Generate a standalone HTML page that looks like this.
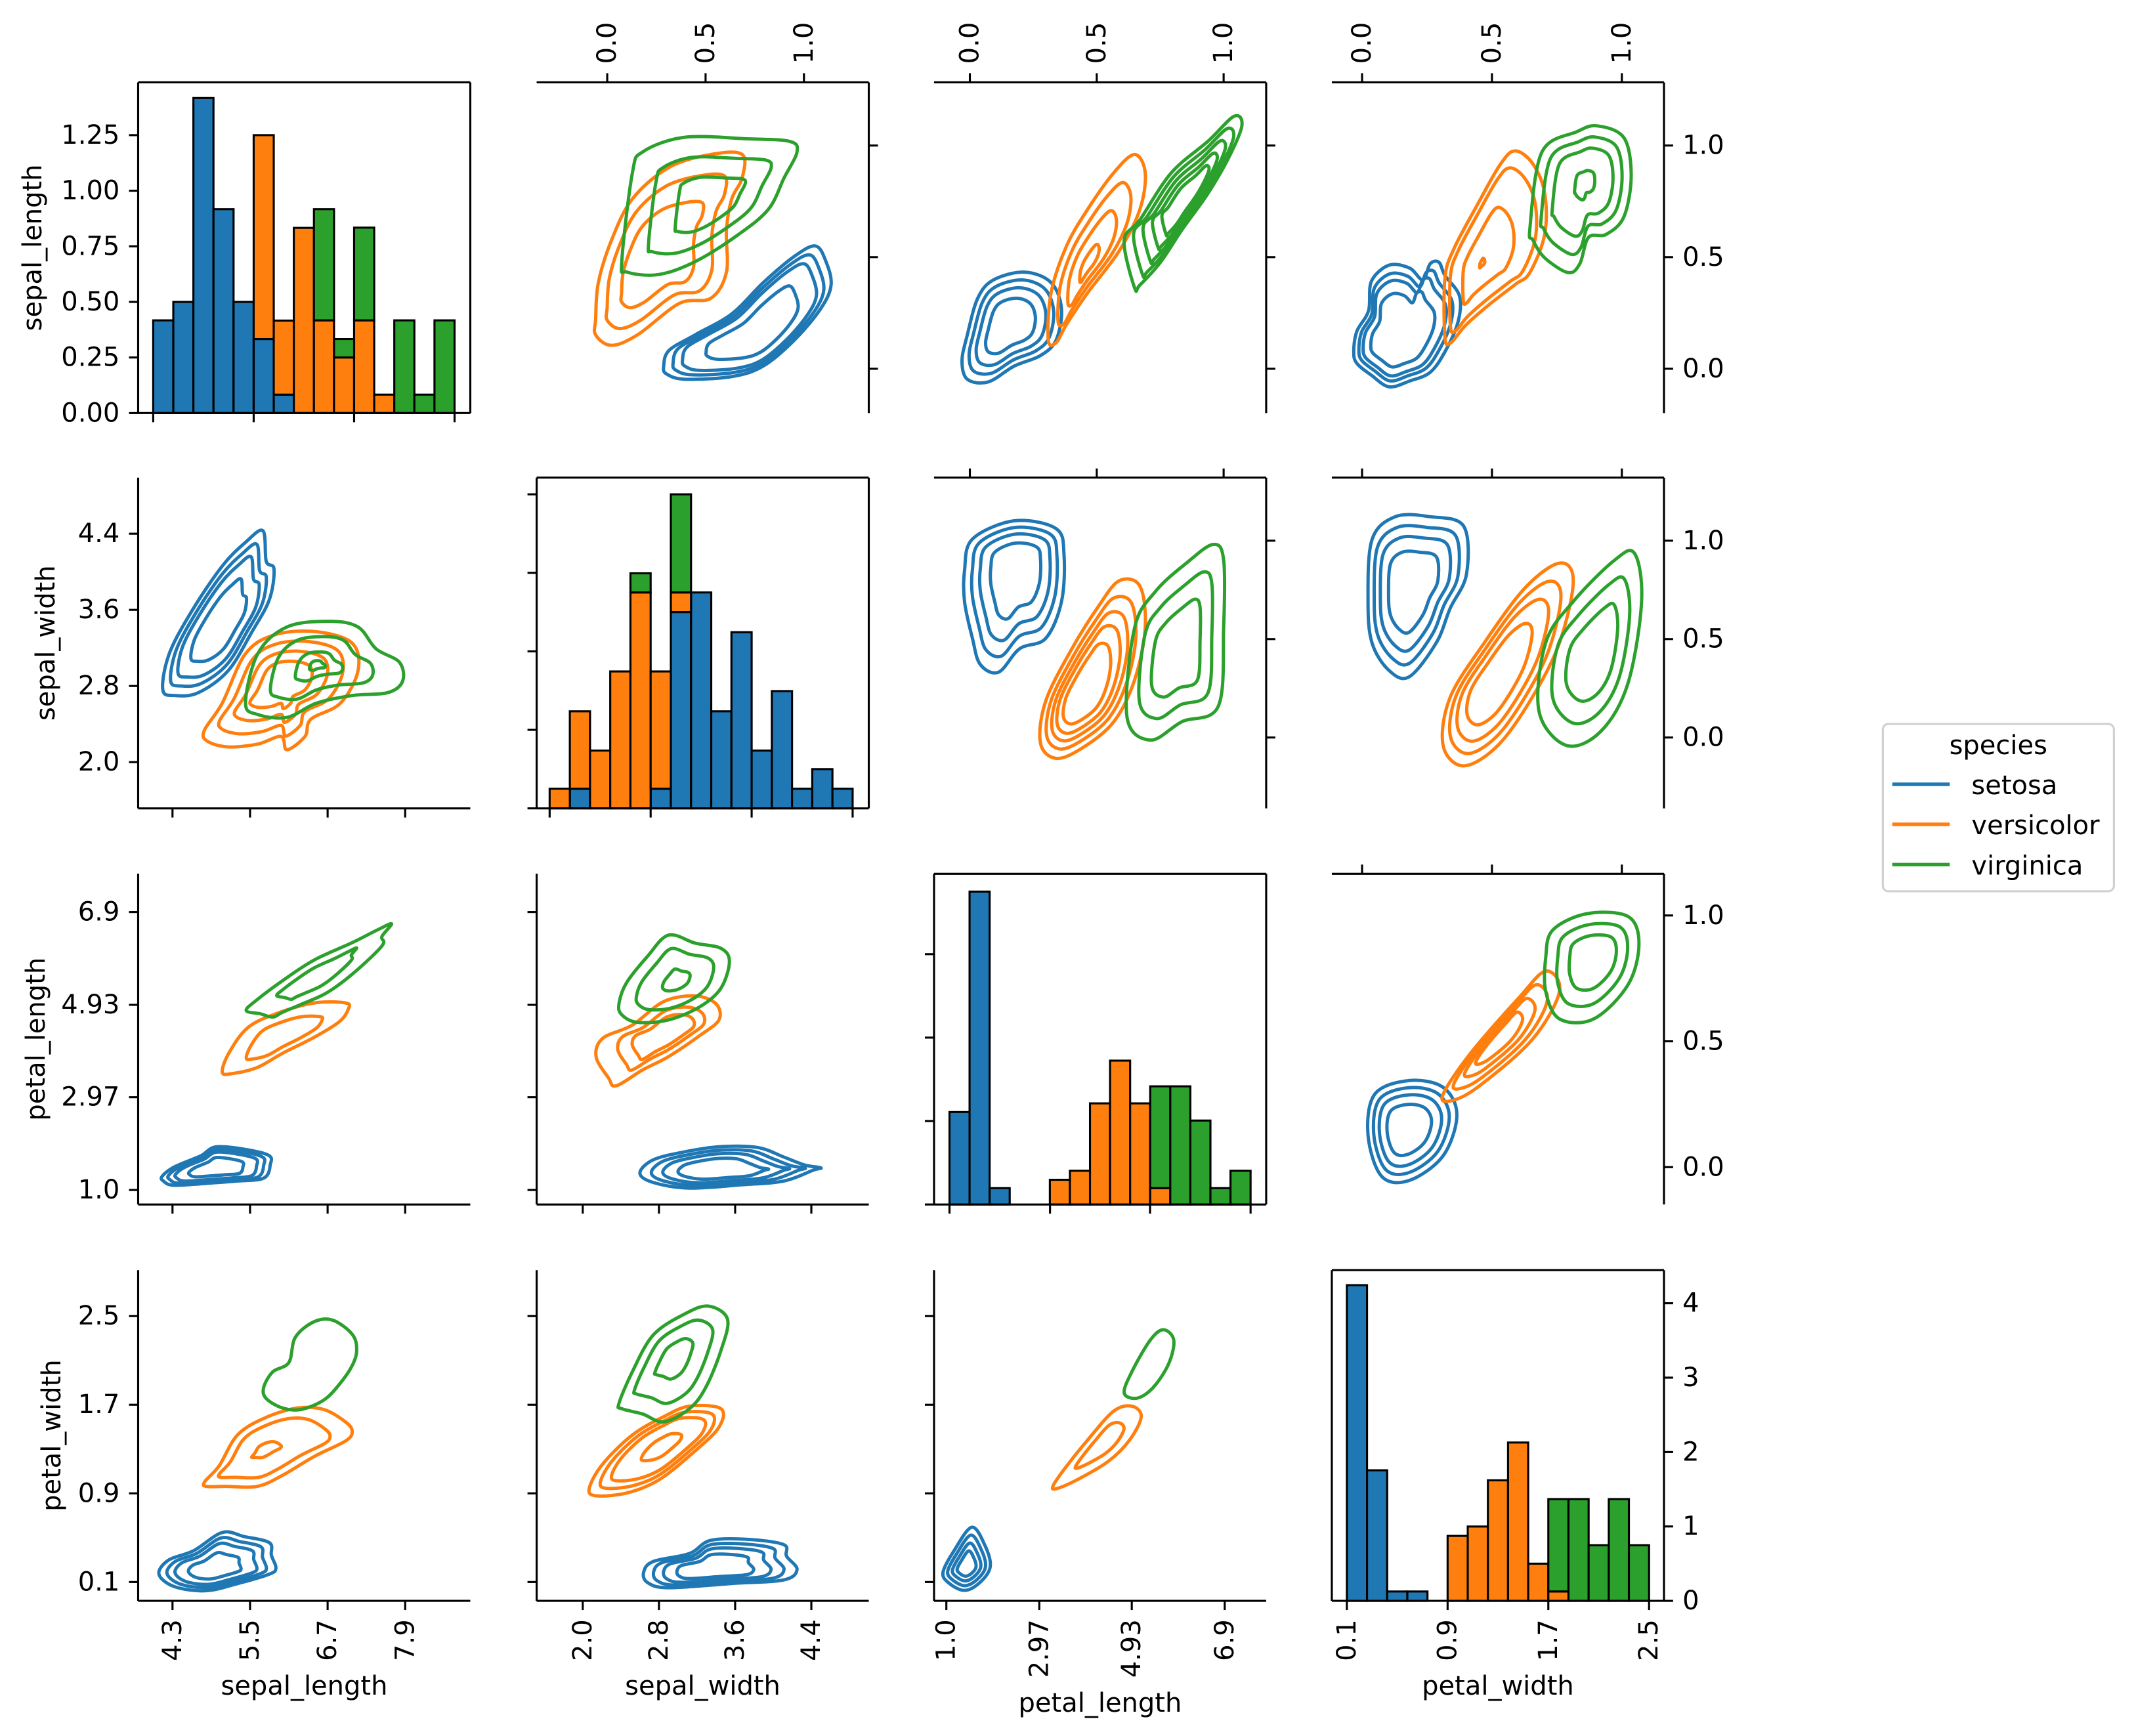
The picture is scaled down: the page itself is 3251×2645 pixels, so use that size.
<!DOCTYPE html>
<html><head><meta charset="utf-8"><title>Iris pairplot</title>
<style>
html,body{margin:0;padding:0;background:#fff;}
svg{display:block;font-family:"DejaVu Sans","Liberation Sans",sans-serif;}
</style></head>
<body>
<svg id="fig" xmlns="http://www.w3.org/2000/svg" width="3251" height="2645" viewBox="0 0 1560 1269.2" preserveAspectRatio="none">
<rect x="0" y="0" width="1560" height="1269.2" fill="#fff"/>
</svg>
<script>
// ---------------- data ----------------
const speciesNames = ['setosa','versicolor','virginica'];
const speciesColors = ['#1f77b4','#ff7f0e','#2ca02c'];

// diagonal histograms (15 bins each), stacked segment heights
const slRange = [4.3, 7.9];
const slSetosa = [0.417,0.5,1.417,0.917,0.5,0.333,0.083,0,0,0,0,0,0,0,0];
const slVersicolor = [0,0,0,0,0,0.917,0.333,0.833,0.417,0.25,0.417,0.083,0,0,0];
const slVirginica = [0,0,0,0,0,0,0,0,0.5,0.083,0.417,0,0.417,0.083,0.417];

const swRange = [2.0, 4.4];
const swSetosa = [0,0.125,0,0,0,0.125,1.25,1.375,0.618,1.122,0.368,0.747,0.125,0.25,0.125];
const swVersicolor = [0.125,0.493,0.368,0.872,1.375,0.747,0.125,0,0,0,0,0,0,0,0];
const swVirginica = [0,0,0,0,0.122,0,0.625,0,0,0,0,0,0,0,0];

const plRange = [1.0, 6.9];
const plSetosa = [0.554,1.875,0.098,0,0,0,0,0,0,0,0,0,0,0,0];
const plVersicolor = [0,0,0,0,0,0.148,0.202,0.606,0.862,0.606,0.098,0,0,0,0];
const plVirginica = [0,0,0,0,0,0,0,0,0,0,0.61,0.708,0.503,0.098,0.202];

const pwRange = [0.1, 2.5];
const pwSetosa = [4.243,1.755,0.126,0.126,0,0,0,0,0,0,0,0,0,0,0];
const pwVersicolor = [0,0,0,0,0,0.873,0.999,1.62,2.128,0.5,0.126,0,0,0,0];
const pwVirginica = [0,0,0,0,0,0,0,0,0,0,1.242,1.368,0.747,1.368,0.747];

// tick labels
const slHistTicks = [4.3,5.5,6.7,7.9];
const swTicks = [2.0,2.8,3.6,4.4];
const slTicks = [4.3,5.5,6.7,7.9];
const plTicks = [1.0,2.97,4.93,6.9];
const plTickLabels = ['1.0','2.97','4.93','6.9'];
const pwTicks = [0.1,0.9,1.7,2.5];
const pwTickLabels = ['0.1','0.9','1.7','2.5'];
const twinTicks = [0,0.5,1.0];
const twinTickLabels = ['0.0','0.5','1.0'];
const hist1Ticks = [0,0.25,0.5,0.75,1.0,1.25];
const hist1TickLabels = ['0.00','0.25','0.50','0.75','1.00','1.25'];
const hist2Ticks = [0,0.5,1.0,1.5,2.0];
const hist3Ticks = [0,0.5,1.0,1.5];
const hist4Ticks = [0,1,2,3,4];

// KDE contours: outer outline (data coords), center, level scales
// row2 col1: sepal_length x sepal_width
const kA_set = [[4.15,2.76],[4.25,3.14],[4.61,3.60],[5.07,4.06],[5.43,4.31],[5.70,4.43],[5.75,4.11],[5.87,4.03],[5.80,3.71],[5.53,3.37],[5.16,2.96],[4.70,2.73],[4.34,2.70]];
const kA_setC = [5.02,3.42]; const kA_setL = [1,0.86,0.73,0.5];
const kA_ver = [[4.79,2.33],[5.07,2.62],[5.43,3.14],[5.89,3.34],[6.53,3.37],[7.08,3.25],[7.17,2.96],[6.90,2.62],[6.44,2.45],[6.35,2.27],[6.07,2.13],[5.98,2.27],[5.62,2.19],[5.16,2.16],[4.84,2.22]];
const kA_verC = [5.98,2.85]; const kA_verL = [1,0.8,0.6,0.4];
const kA_vir = [[5.43,2.62],[5.62,3.14],[6.07,3.42],[6.72,3.48],[7.17,3.42],[7.45,3.19],[7.81,3.05],[7.86,2.85],[7.63,2.73],[7.08,2.70],[6.53,2.62],[6.07,2.47],[5.62,2.50]];
const kA_virC = [6.53,3.02]; const kA_virL = [1,0.65,0.3,0.1];
// row1 col2 (twin 0-1)
const kB_set = [[0.287,0.012],[0.314,0.082],[0.447,0.152],[0.633,0.246],[0.793,0.386],[0.952,0.504],[1.059,0.550],[1.112,0.480],[1.138,0.375],[1.085,0.269],[0.952,0.129],[0.793,0.012],[0.633,-0.035],[0.394,-0.047],[0.301,-0.023]];
const kB_setC = [0.766,0.152]; const kB_setL = [1,0.9,0.8,0.55];
const kB_ver = [[-0.059,0.222],[-0.045,0.386],[0.021,0.574],[0.128,0.761],[0.314,0.902],[0.527,0.960],[0.686,0.960],[0.686,0.855],[0.633,0.761],[0.606,0.621],[0.606,0.433],[0.527,0.316],[0.367,0.293],[0.154,0.152],[0.021,0.105],[-0.059,0.152]];
const kB_verC = [0.234,0.480]; const kB_verL = [1,0.8,0.55];
const kB_vir = [[0.074,0.480],[0.128,0.878],[0.181,0.972],[0.394,1.037],[0.713,1.030],[0.926,1.019],[0.965,0.972],[0.899,0.855],[0.819,0.714],[0.660,0.597],[0.447,0.480],[0.261,0.422],[0.101,0.433]];
const kB_virC = [0.527,0.738]; const kB_virL = [1,0.7,0.4];
// row1 col3
const kC_set = [[-0.031,0.035],[-0.010,0.152],[0.031,0.316],[0.093,0.398],[0.216,0.433],[0.320,0.386],[0.361,0.269],[0.340,0.129],[0.278,0.059],[0.175,0.012],[0.072,-0.059],[-0.010,-0.047]];
const kC_setC = [0.155,0.199]; const kC_setL = [1,0.85,0.7,0.5];
const kC_ver = [[0.309,0.129],[0.320,0.340],[0.381,0.550],[0.464,0.714],[0.567,0.878],[0.649,0.960],[0.691,0.878],[0.670,0.714],[0.588,0.527],[0.464,0.340],[0.381,0.199],[0.340,0.117]];
const kC_verC = [0.464,0.457]; const kC_verL = [1,0.75,0.5,0.2];
const kC_vir = [[0.649,0.363],[0.608,0.574],[0.670,0.667],[0.794,0.878],[0.938,1.019],[1.041,1.131],[1.072,1.089],[1.021,0.948],[0.938,0.785],[0.835,0.621],[0.753,0.480],[0.670,0.375]];
const kC_virC = [0.856,0.761]; const kC_virL = [1,0.85,0.7,0.55,0.4];
// row1 col4
const kD_set = [[-0.032,0.076],[-0.020,0.168],[0.025,0.260],[0.036,0.392],[0.104,0.464],[0.183,0.451],[0.234,0.398],[0.262,0.470],[0.296,0.477],[0.319,0.418],[0.375,0.326],[0.369,0.208],[0.319,0.076],[0.262,-0.016],[0.183,-0.055],[0.104,-0.081],[0.036,-0.029],[-0.020,0.024]];
const kD_setC = [0.132,0.142]; const kD_setL = [1,0.88,0.78,0.6];
const kD_ver = [[0.319,0.142],[0.319,0.405],[0.353,0.536],[0.443,0.733],[0.533,0.917],[0.590,0.976],[0.658,0.917],[0.703,0.786],[0.703,0.602],[0.646,0.431],[0.590,0.378],[0.488,0.286],[0.398,0.194],[0.341,0.116]];
const kD_verC = [0.460,0.470]; const kD_verL = [1,0.85,0.5,0.05];
const kD_vir = [[0.646,0.628],[0.692,0.970],[0.827,1.062],[0.906,1.088],[1.008,1.035],[1.036,0.865],[1.008,0.681],[0.940,0.602],[0.872,0.589],[0.838,0.470],[0.793,0.431],[0.703,0.497],[0.658,0.576]];
const kD_virC = [0.861,0.838]; const kD_virL = [1,0.8,0.6,0.2];
// row2 col3
const kE_set = [[-0.021,0.849],[0.010,1.008],[0.175,1.101],[0.340,1.061],[0.371,0.928],[0.361,0.690],[0.299,0.504],[0.196,0.451],[0.113,0.332],[0.041,0.371],[0.010,0.504],[-0.021,0.690]];
const kE_setC = [0.186,0.875]; const kE_setL = [1,0.85,0.7,0.5];
const kE_ver = [[0.278,-0.027],[0.299,0.186],[0.402,0.451],[0.505,0.663],[0.588,0.796],[0.670,0.769],[0.691,0.557],[0.649,0.292],[0.567,0.080],[0.443,-0.053],[0.340,-0.106]];
const kE_verC = [0.443,0.212]; const kE_verL = [1,0.85,0.72,0.6,0.45];
const kE_vir = [[0.619,0.106],[0.649,0.557],[0.732,0.743],[0.856,0.889],[0.959,0.981],[1.0,0.902],[1.0,0.557],[0.979,0.159],[0.835,0.080],[0.711,-0.013]];
const kE_virC = [0.814,0.424]; const kE_virL = [1,0.75,0.5];
// row2 col4
const kF_set = [[0.023,0.691],[0.038,1.004],[0.128,1.122],[0.260,1.122],[0.391,1.074],[0.402,0.830],[0.339,0.656],[0.286,0.482],[0.181,0.308],[0.102,0.343],[0.038,0.482]];
const kF_setC = [0.181,0.761]; const kF_setL = [1,0.85,0.7,0.5];
const kF_ver = [[0.312,-0.040],[0.339,0.204],[0.471,0.482],[0.628,0.761],[0.760,0.886],[0.813,0.795],[0.760,0.482],[0.655,0.204],[0.523,-0.040],[0.391,-0.144]];
const kF_verC = [0.497,0.273]; const kF_verL = [1,0.85,0.7,0.5];
const kF_vir = [[0.681,0.134],[0.707,0.482],[0.813,0.691],[0.971,0.900],[1.049,0.935],[1.076,0.691],[1.023,0.273],[0.918,0.030],[0.786,-0.040]];
const kF_virC = [0.892,0.413]; const kF_virL = [1,0.75,0.5];
// row3 col4
const kG_set = [[0.023,0.127],[0.049,0.290],[0.181,0.344],[0.312,0.317],[0.365,0.208],[0.312,0.045],[0.181,-0.053],[0.075,-0.036]];
const kG_setC = [0.170,0.154]; const kG_setL = [1,0.85,0.7,0.5];
const kG_ver = [[0.312,0.290],[0.418,0.453],[0.602,0.671],[0.707,0.779],[0.760,0.698],[0.655,0.507],[0.444,0.317],[0.339,0.263]];
const kG_verC = [0.523,0.507]; const kG_verL = [1,0.8,0.6,0.4];
const kG_vir = [[0.707,0.833],[0.734,0.942],[0.866,1.007],[1.024,0.996],[1.066,0.888],[1.024,0.725],[0.892,0.589],[0.760,0.589],[0.707,0.698]];
const kG_virC = [0.892,0.833]; const kG_virL = [1,0.75,0.5];
// row3 col1: sepal_length x petal_length
const kH_set = [[4.14,1.29],[4.33,1.49],[4.73,1.72],[5.02,1.92],[5.75,1.76],[5.81,1.52],[5.71,1.25],[5.31,1.19],[4.92,1.15],[4.33,1.10],[4.16,1.19]];
const kH_setC = [4.97,1.46]; const kH_setL = [1,0.88,0.75,0.5];
const kH_ver = [[5.07,3.50],[5.17,3.90],[5.46,4.44],[5.90,4.74],[6.49,4.97],[6.98,4.97],[7.02,4.84],[6.88,4.57],[6.49,4.24],[6.00,3.90],[5.61,3.60],[5.22,3.47]];
const kH_verC = [6.00,4.24]; const kH_verL = [1,0.6];
const kH_vir = [[5.44,4.81],[5.61,5.04],[6.00,5.44],[6.49,5.88],[7.08,6.25],[7.47,6.52],[7.69,6.65],[7.54,6.38],[7.54,6.18],[7.08,5.58],[6.68,5.18],[6.29,4.94],[6.00,4.77],[5.85,4.67],[5.66,4.74]];
const kH_virC = [6.49,5.51]; const kH_virL = [1,0.55];
// row4 col1: sepal_length x petal_width
const kI_set = [[4.09,0.171],[4.24,0.298],[4.63,0.383],[5.07,0.547],[5.41,0.510],[5.80,0.454],[5.83,0.341],[5.90,0.227],[5.80,0.171],[5.31,0.086],[4.82,0.021],[4.33,0.058]];
const kI_setC = [4.92,0.213]; const kI_setL = [1,0.85,0.7,0.45];
const kI_ver = [[4.80,1.006],[5.02,1.147],[5.31,1.430],[5.75,1.586],[6.24,1.671],[6.64,1.657],[6.98,1.543],[7.08,1.459],[6.98,1.374],[6.49,1.232],[6.00,1.062],[5.61,0.963],[5.12,0.963],[4.82,0.963]];
const kI_verC = [5.71,1.289]; const kI_verL = [1,0.75,0.2];
const kI_vir = [[5.71,1.855],[5.85,1.996],[6.10,2.081],[6.20,2.308],[6.49,2.449],[6.78,2.463],[7.08,2.336],[7.15,2.195],[7.08,2.053],[6.88,1.883],[6.64,1.742],[6.29,1.657],[6.00,1.671],[5.75,1.756]];
const kI_virC = [6.49,2.05]; const kI_virL = [1];
// row3 col2: sepal_width x petal_length
const kJ_set = [[2.60,1.36],[2.74,1.64],[3.07,1.81],[3.45,1.92],[3.84,1.90],[4.11,1.70],[4.33,1.53],[4.50,1.47],[4.42,1.42],[4.11,1.19],[3.67,1.11],[3.12,1.04],[2.74,1.16]];
const kJ_setC = [3.40,1.42]; const kJ_setL = [1,0.85,0.7,0.5];
const kJ_ver = [[2.14,3.83],[2.21,4.22],[2.52,4.50],[2.85,5.00],[3.18,5.12],[3.40,4.95],[3.43,4.61],[3.23,4.28],[2.90,3.83],[2.63,3.55],[2.35,3.21],[2.27,3.38]];
const kJ_verC = [2.90,4.33]; const kJ_verL = [1,0.7,0.5];
const kJ_vir = [[2.38,4.95],[2.46,5.40],[2.68,5.96],[2.90,6.41],[3.18,6.24],[3.45,6.13],[3.54,5.85],[3.45,5.28],[3.23,4.89],[2.90,4.61],[2.57,4.56],[2.41,4.72]];
const kJ_virC = [2.99,5.45]; const kJ_virL = [1,0.7,0.25];
// row4 col2: sepal_width x petal_width
const kK_set = [[2.64,0.190],[2.74,0.285],[3.12,0.357],[3.34,0.475],[3.73,0.485],[4.11,0.437],[4.14,0.333],[4.25,0.214],[4.11,0.119],[3.56,0.086],[2.90,0.048],[2.68,0.095]];
const kK_setC = [3.34,0.214]; const kK_setL = [1,0.85,0.7,0.5];
const kK_ver = [[2.07,0.951],[2.21,1.165],[2.52,1.426],[2.85,1.592],[3.12,1.687],[3.45,1.664],[3.43,1.497],[3.18,1.283],[2.80,1.022],[2.46,0.903],[2.13,0.879]];
const kK_verC = [2.85,1.331]; const kK_verL = [1,0.85,0.7,0.3];
const kK_vir = [[2.38,1.711],[2.52,1.996],[2.74,2.329],[3.07,2.519],[3.32,2.590],[3.52,2.472],[3.45,2.187],[3.29,1.854],[3.12,1.664],[2.85,1.545],[2.63,1.616],[2.41,1.664]];
const kK_virC = [2.96,2.139]; const kK_virL = [1,0.72,0.35];
// row4 col3: petal_length x petal_width
const kL_set = [[0.93,0.190],[1.16,0.380],[1.54,0.594],[1.82,0.428],[1.93,0.238],[1.71,0.095],[1.38,0.024],[1.04,0.095]];
const kL_setC = [1.43,0.238]; const kL_setL = [1,0.8,0.6,0.4];
const kL_ver = [[3.27,0.975],[3.54,1.141],[3.99,1.379],[4.54,1.640],[4.93,1.687],[5.13,1.592],[4.88,1.379],[4.43,1.188],[3.77,1.022],[3.32,0.941]];
const kL_verC = [4.32,1.355]; const kL_verL = [1,0.55];
const kL_vir = [[4.77,1.806],[4.93,1.996],[5.32,2.282],[5.60,2.377],[5.82,2.282],[5.71,2.068],[5.38,1.854],[5.04,1.759]];
const kL_virC = [5.3,2.07]; const kL_virL = [1];

// ---------------- layout & scales ----------------
const NS = 'http://www.w3.org/2000/svg';
const svg = document.getElementById('fig');
const colL = [101, 392.3, 682.8, 973.6], colW = 242.8;
const rowT = [60.2, 349.2, 638.8, 928.6], rowH = 241.8;
const FS = 19.2, TL = 6.7, PAD = 6.8, LW = 1.5;

function lin(d0, d1, p0, p1){ return v => p0 + (v - d0) * (p1 - p0) / (d1 - d0); }
const X1 = lin(4.3, 7.9, 126.1, 296.2);
const X2 = lin(2.0, 4.4, 426.0, 593.1);
const X3 = lin(1.0, 6.9, 691.8, 895.3);
const Y2 = lin(4.4, 2.0, 390.2, 557.2);
const Y3 = lin(1.0, 6.9, 870.0, 666.8);
const Y4 = lin(0.1, 2.5, 1156.6, 962.2);
const U2 = lin(0, 1, 443.9, 587.7);
const U3 = lin(0, 1, 709.0, 894.5);
const U4 = lin(0, 1, 995.7, 1185.6);
const V1 = lin(0, 1, 269.6, 106.4);
const V2 = lin(0, 1, 539.2, 395.3);
const V3 = lin(0, 1, 853.3, 669.3);
const Xh1 = lin(4.3, 7.9, 112.0, 332.3);
const Xh2 = lin(2.0, 4.4, 401.8, 623.3);
const Xh3 = lin(1.0, 6.9, 694.1, 914.2);
const Xh4 = lin(0.1, 2.5, 984.6, 1205.5);
const Yh1 = lin(0, 1.25, rowT[0] + rowH, 98.8);
const Yh2 = lin(0, 2.0, rowT[1] + rowH, rowT[1] + rowH - 229.6);
const Yh3 = lin(0, 1.5, rowT[2] + rowH, rowT[2] + rowH - 183);
const Yh4 = lin(0, 4, rowT[3] + rowH, rowT[3] + rowH - 217.6);

function add(parent, tag, attrs){
  const el = document.createElementNS(NS, tag);
  for (const k in attrs) el.setAttribute(k, attrs[k]);
  parent.appendChild(el);
  return el;
}
function group(name){
  const g = add(svg, 'g', {});
  
  
  return g;
}
function line(g, x1, y1, x2, y2, name){
  const l = add(g, 'line', {x1, y1, x2, y2, stroke: '#000', 'stroke-width': LW, 'stroke-linecap': 'butt'});
  
  
  return l;
}
function text(g, x, y, str, opts, name){
  const t = add(g, 'text', Object.assign({x, y, 'font-size': FS, fill: '#000'}, opts || {}));
  t.textContent = str;
  
  
  return t;
}
function rotText(g, x, y, str, anchor, name){
  const t = add(g, 'text', {x: 0, y: 0, 'font-size': FS, fill: '#000', 'text-anchor': anchor, 'dominant-baseline': 'central', transform: `translate(${x},${y}) rotate(-90)`});
  t.textContent = str;
  
  
  return t;
}

// ---- spines
function spines(g, r, c, which){
  const L = colL[c], R = colL[c] + colW, T = rowT[r], B = rowT[r] + rowH;
  if (which.includes('l')) line(g, L, T, L, B, 'left-spine');
  if (which.includes('r')) line(g, R, T, R, B, 'right-spine');
  if (which.includes('t')) line(g, L, T, R, T, 'top-spine');
  if (which.includes('b')) line(g, L, B, R, B, 'bottom-spine');
}
function leftTicks(g, r, c, vals, f, labels){
  const L = colL[c];
  vals.forEach((v, i) => {
    line(g, L - TL, f(v), L, f(v), 'y-tick');
    if (labels) text(g, L - TL - PAD, f(v), labels[i], {'text-anchor': 'end', 'dominant-baseline': 'central'}, 'y-tick-label');
  });
}
function rightTicks(g, r, c, vals, f, labels){
  const R = colL[c] + colW;
  vals.forEach((v, i) => {
    line(g, R, f(v), R + TL, f(v), 'y-tick');
    if (labels) text(g, R + TL + PAD, f(v), labels[i], {'text-anchor': 'start', 'dominant-baseline': 'central'}, 'y-tick-label');
  });
}
function bottomTicks(g, r, c, vals, f, labels){
  const B = rowT[r] + rowH;
  vals.forEach((v, i) => {
    line(g, f(v), B, f(v), B + TL, 'x-tick');
    if (labels) rotText(g, f(v), B + TL + PAD, labels[i], 'end', 'x-tick-label');
  });
}
function topTicks(g, r, c, vals, f, labels){
  const T = rowT[r];
  vals.forEach((v, i) => {
    line(g, f(v), T - TL, f(v), T, 'x-tick');
    if (labels) rotText(g, f(v), T - TL - PAD, labels[i], 'start', 'x-tick-label');
  });
}

// ---- histogram
function hist(g, range, layers, xf, yf){
  const n = layers[0].length, w = (range[1] - range[0]) / n;
  const base = new Array(n).fill(0);
  layers.forEach((arr, si) => {
    for (let i = 0; i < n; i++){
      const h = arr[i];
      if (h <= 0) continue;
      const x0 = xf(range[0] + i * w), x1 = xf(range[0] + (i + 1) * w);
      const y0 = yf(base[i]), y1 = yf(base[i] + h);
      const rc = add(g, 'rect', {x: x0, y: y1, width: x1 - x0, height: y0 - y1, fill: speciesColors[si], stroke: '#000', 'stroke-width': LW});
      
      
      base[i] += h;
    }
  });
}

// ---- contours
function smoothPath(pts){
  const n = pts.length;
  let d = `M${pts[0][0].toFixed(2)},${pts[0][1].toFixed(2)}`;
  for (let i = 0; i < n; i++){
    const p0 = pts[(i - 1 + n) % n], p1 = pts[i], p2 = pts[(i + 1) % n], p3 = pts[(i + 2) % n];
    const c1 = [p1[0] + (p2[0] - p0[0]) / 6, p1[1] + (p2[1] - p0[1]) / 6];
    const c2 = [p2[0] - (p3[0] - p1[0]) / 6, p2[1] - (p3[1] - p1[1]) / 6];
    d += `C${c1[0].toFixed(2)},${c1[1].toFixed(2)} ${c2[0].toFixed(2)},${c2[1].toFixed(2)} ${p2[0].toFixed(2)},${p2[1].toFixed(2)}`;
  }
  return d + 'Z';
}
function kde(g, pts, center, levels, xf, yf, si){
  levels.forEach((s, li) => {
    const px = pts.map(p => [xf(center[0] + (p[0] - center[0]) * s), yf(center[1] + (p[1] - center[1]) * s)]);
    const path = add(g, 'path', {d: smoothPath(px), fill: 'none', stroke: speciesColors[si], 'stroke-width': 2.4, 'stroke-linejoin': 'round'});
    
    
  });
}
function kdePanel(g, sets, xf, yf){
  sets.forEach((s, si) => kde(g, s[0], s[1], s[2], xf, yf, si));
}

// ================= panels =================
// Row 1
let g = group('panel-sepal-length-hist');
hist(g, slRange, [slSetosa, slVersicolor, slVirginica], Xh1, Yh1);
spines(g, 0, 0, 'lrtb');
leftTicks(g, 0, 0, hist1Ticks, Yh1, hist1TickLabels);
bottomTicks(g, 0, 0, slHistTicks, Xh1, null);

g = group('panel-r1-c2-kde');
kdePanel(g, [[kB_set,kB_setC,kB_setL],[kB_ver,kB_verC,kB_verL],[kB_vir,kB_virC,kB_virL]], U2, V1);
spines(g, 0, 1, 'tr');
topTicks(g, 0, 1, twinTicks, U2, twinTickLabels);
rightTicks(g, 0, 1, twinTicks, V1, null);

g = group('panel-r1-c3-kde');
kdePanel(g, [[kC_set,kC_setC,kC_setL],[kC_ver,kC_verC,kC_verL],[kC_vir,kC_virC,kC_virL]], U3, V1);
spines(g, 0, 2, 'tr');
topTicks(g, 0, 2, twinTicks, U3, twinTickLabels);
rightTicks(g, 0, 2, twinTicks, V1, null);

g = group('panel-r1-c4-kde');
kdePanel(g, [[kD_set,kD_setC,kD_setL],[kD_ver,kD_verC,kD_verL],[kD_vir,kD_virC,kD_virL]], U4, V1);
spines(g, 0, 3, 'tr');
topTicks(g, 0, 3, twinTicks, U4, twinTickLabels);
rightTicks(g, 0, 3, twinTicks, V1, twinTickLabels);

// Row 2
g = group('panel-r2-c1-kde');
kdePanel(g, [[kA_set,kA_setC,kA_setL],[kA_ver,kA_verC,kA_verL],[kA_vir,kA_virC,kA_virL]], X1, Y2);
spines(g, 1, 0, 'lb');
leftTicks(g, 1, 0, swTicks, Y2, swTicks.map(v => v.toFixed(1)));
bottomTicks(g, 1, 0, slTicks, X1, null);

g = group('panel-sepal-width-hist');
hist(g, swRange, [swSetosa, swVersicolor, swVirginica], Xh2, Yh2);
spines(g, 1, 1, 'lrtb');
leftTicks(g, 1, 1, hist2Ticks, Yh2, null);
bottomTicks(g, 1, 1, swTicks, Xh2, null);

g = group('panel-r2-c3-kde');
kdePanel(g, [[kE_set,kE_setC,kE_setL],[kE_ver,kE_verC,kE_verL],[kE_vir,kE_virC,kE_virL]], U3, V2);
spines(g, 1, 2, 'tr');
topTicks(g, 1, 2, twinTicks, U3, null);
rightTicks(g, 1, 2, twinTicks, V2, null);

g = group('panel-r2-c4-kde');
kdePanel(g, [[kF_set,kF_setC,kF_setL],[kF_ver,kF_verC,kF_verL],[kF_vir,kF_virC,kF_virL]], U4, V2);
spines(g, 1, 3, 'tr');
topTicks(g, 1, 3, twinTicks, U4, null);
rightTicks(g, 1, 3, twinTicks, V2, twinTickLabels);

// Row 3
g = group('panel-r3-c1-kde');
kdePanel(g, [[kH_set,kH_setC,kH_setL],[kH_ver,kH_verC,kH_verL],[kH_vir,kH_virC,kH_virL]], X1, Y3);
spines(g, 2, 0, 'lb');
leftTicks(g, 2, 0, plTicks, Y3, plTickLabels);
bottomTicks(g, 2, 0, slTicks, X1, null);

g = group('panel-r3-c2-kde');
kdePanel(g, [[kJ_set,kJ_setC,kJ_setL],[kJ_ver,kJ_verC,kJ_verL],[kJ_vir,kJ_virC,kJ_virL]], X2, Y3);
spines(g, 2, 1, 'lb');
leftTicks(g, 2, 1, plTicks, Y3, null);
bottomTicks(g, 2, 1, swTicks, X2, null);

g = group('panel-petal-length-hist');
hist(g, plRange, [plSetosa, plVersicolor, plVirginica], Xh3, Yh3);
spines(g, 2, 2, 'lrtb');
leftTicks(g, 2, 2, hist3Ticks, Yh3, null);
bottomTicks(g, 2, 2, plTicks, Xh3, null);

g = group('panel-r3-c4-kde');
kdePanel(g, [[kG_set,kG_setC,kG_setL],[kG_ver,kG_verC,kG_verL],[kG_vir,kG_virC,kG_virL]], U4, V3);
spines(g, 2, 3, 'tr');
topTicks(g, 2, 3, twinTicks, U4, null);
rightTicks(g, 2, 3, twinTicks, V3, twinTickLabels);

// Row 4
g = group('panel-r4-c1-kde');
kdePanel(g, [[kI_set,kI_setC,kI_setL],[kI_ver,kI_verC,kI_verL],[kI_vir,kI_virC,kI_virL]], X1, Y4);
spines(g, 3, 0, 'lb');
leftTicks(g, 3, 0, pwTicks, Y4, pwTickLabels);
bottomTicks(g, 3, 0, slTicks, X1, slTicks.map(v => v.toFixed(1)));

g = group('panel-r4-c2-kde');
kdePanel(g, [[kK_set,kK_setC,kK_setL],[kK_ver,kK_verC,kK_verL],[kK_vir,kK_virC,kK_virL]], X2, Y4);
spines(g, 3, 1, 'lb');
leftTicks(g, 3, 1, pwTicks, Y4, null);
bottomTicks(g, 3, 1, swTicks, X2, swTicks.map(v => v.toFixed(1)));

g = group('panel-r4-c3-kde');
kdePanel(g, [[kL_set,kL_setC,kL_setL],[kL_ver,kL_verC,kL_verL],[kL_vir,kL_virC,kL_virL]], X3, Y4);
spines(g, 3, 2, 'lb');
leftTicks(g, 3, 2, pwTicks, Y4, null);
bottomTicks(g, 3, 2, plTicks, X3, plTickLabels);

g = group('panel-petal-width-hist');
hist(g, pwRange, [pwSetosa, pwVersicolor, pwVirginica], Xh4, Yh4);
spines(g, 3, 3, 'lrtb');
rightTicks(g, 3, 3, hist4Ticks, Yh4, hist4Ticks.map(String));
bottomTicks(g, 3, 3, pwTicks, Xh4, pwTickLabels);

// ---- axis titles
g = group('axis-titles');
const yTitles = ['sepal_length','sepal_width','petal_length','petal_width'];
const yTitleX = [23.9, 33.6, 26.4, 37.9];
yTitles.forEach((s, i) => rotText(g, yTitleX[i], rowT[i] + rowH / 2, s, 'middle', 'y-axis-title'));
const xTitleY = [1239, 1239, 1251.5, 1239];
yTitles.forEach((s, i) => text(g, colL[i] + colW / 2, xTitleY[i], s, {'text-anchor': 'middle'}, 'x-axis-title'));

// ---- legend
g = group('legend');
const lb = add(g, 'rect', {x: 1376.4, y: 529.3, width: 168.9, height: 122.3, rx: 4, fill: '#fff', stroke: '#d0d0d0', 'stroke-width': 1.5});


text(g, 1460.8, 551.3, 'species', {'text-anchor': 'middle'}, 'legend-title');
const legY = [573.4, 602.7, 632.1];
speciesNames.forEach((s, i) => {
  const ll = add(g, 'line', {x1: 1383.3, y1: legY[i], x2: 1425.3, y2: legY[i], stroke: speciesColors[i], 'stroke-width': 2.6});
  
  
  text(g, 1441.2, legY[i] + 7.2, s, {}, 'legend-entry-' + s);
});
</script>
</body></html>
